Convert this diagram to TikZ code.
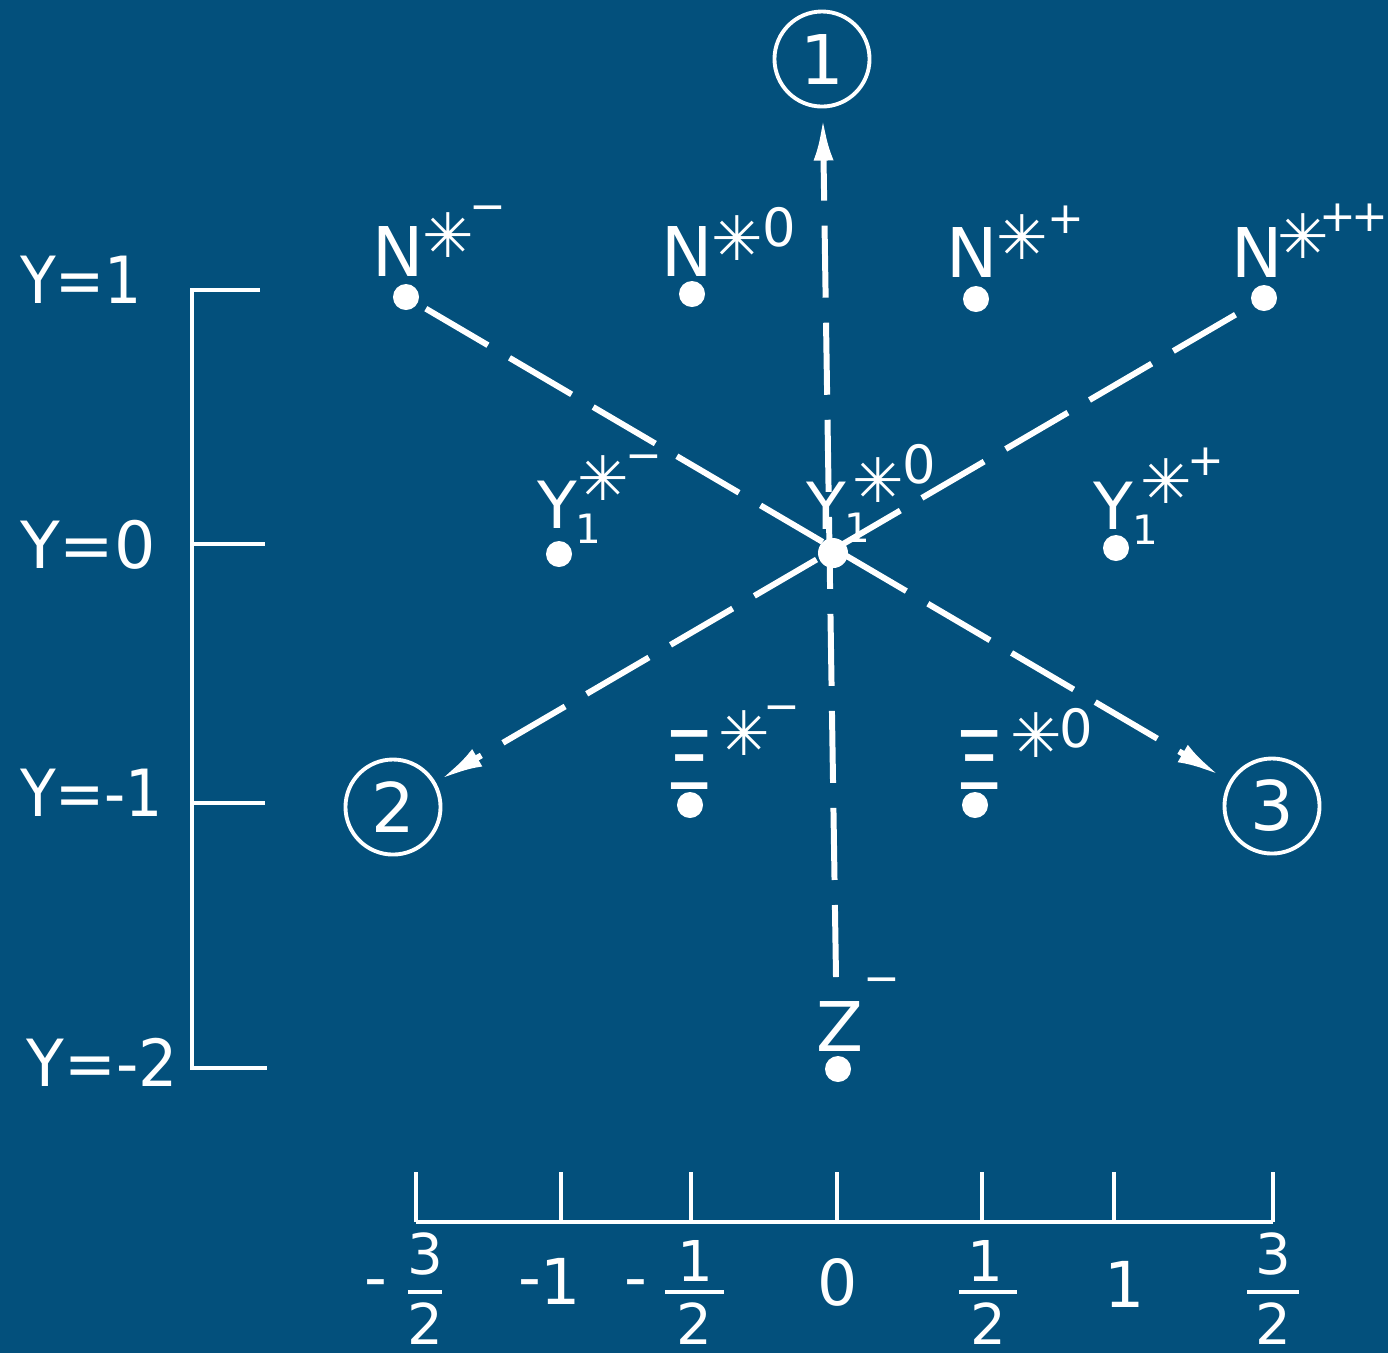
\documentclass[tikz,border=0pt]{standalone}
\usepackage{fontspec}
\setmainfont{DejaVu Sans}
\usepackage{graphicx}
\usetikzlibrary{arrows.meta}
\definecolor{bg}{RGB}{3,80,124}
\begin{document}
\begin{tikzpicture}[x=0.01cm,y=-0.01cm,
  every node/.style={text=white, inner sep=0pt, outer sep=0pt},
  lett/.style={font=\fontsize{19.5}{20}\selectfont},
  yll/.style={font=\fontsize{18.5}{20}\selectfont},
  xil/.style={font=\fontsize{23}{24}\selectfont},
  sub/.style={font=\fontsize{11.5}{14}\selectfont},
  astr/.style={font=\fontsize{17.5}{20}\selectfont},
  chg/.style={font=\fontsize{12.5}{14}\selectfont},
  chz/.style={font=\fontsize{15}{16}\selectfont},
  dotn/.style={circle, fill=white, minimum size=0.26cm},
  numc/.style={circle, draw=white, line width=1.1pt, minimum size=0.95cm, font=\fontsize{19.5}{20}\selectfont},
  dline/.style={white, line width=1.7pt, dash pattern=on 0.72cm off 0.25cm},
  tipa/.style={-{Latex[length=0.42cm,width=0.2cm]}},
  rulel/.style={white, line width=1.4pt},
  ylab/.style={anchor=west, font=\fontsize{18.5}{20}\selectfont},
  axn/.style={font=\fontsize{18}{20}\selectfont},
  frn/.style={font=\fontsize{16}{18}\selectfont},
]
\path[use as bounding box, fill=bg] (0,0) rectangle (1388,1353);

% numbered circles
\node[numc] (c1) at (822,59) {1};
\node[numc] (c2) at (393,807) {2};
\node[numc] (c3) at (1272,806) {3};

% N* multiplet
\node[dotn] (dnm) at (406,297) {};
\node[lett] (nmL) at (398,251) {N};
\node[astr] (nmS) at (448,235) {✳};
\node[chg] (nmC) at (488,214) {−};

\node[dotn] (dn0) at (692,294) {};
\node[lett] (n0L) at (687,251) {N};
\node[astr] (n0S) at (737,238) {✳};
\node[chz] (n0C) at (779,227) {0};

\node[dotn] (dnp) at (976,299) {};
\node[lett] (npL) at (972,252) {N};
\node[astr] (npS) at (1022,237) {✳};
\node[chg] (npC) at (1066,220) {+};

\node[dotn] (dnpp) at (1264,298) {};
\node[lett] (nppL) at (1257,252) {N};
\node[astr] (nppS) at (1303,236) {✳};
\node[chg, anchor=east] (nppC) at (1388,218) {+\kern-1.5pt+};

% Y1* multiplet
\node[dotn] (dym) at (559,554) {};
\node[yll] (ymL) at (557,505) {Y};
\node[sub] (ymI) at (588,529) {1};
\node[astr] (ymS) at (603,478) {✳};
\node[chg] (ymC) at (644,463) {−};

\node[dotn, minimum size=0.3cm] (dy0) at (833,553) {};
\node[yll] (y0L) at (826,506) {Y};
\node[sub] (y0I) at (857,528) {1};
\node[astr] (y0S) at (878,480) {✳};
\node[chz] (y0C) at (919,464) {0};

\node[dotn] (dyp) at (1116,548) {};
\node[yll] (ypL) at (1113,506) {Y};
\node[sub] (ypI) at (1145,530) {1};
\node[astr] (ypS) at (1166,481) {✳};
\node[chg] (ypC) at (1206,462) {+};

% Xi* multiplet
\node[dotn] (dxm) at (690,805) {};
\node[xil] (xmL) at (689,760) {Ξ};
\node[astr] (xmS) at (744,733) {✳};
\node[chg] (xmC) at (782,714) {−};

\node[dotn] (dx0) at (975,805) {};
\node[xil] (x0L) at (979,760) {Ξ};
\node[astr] (x0S) at (1036,735) {✳};
\node[chz] (x0C) at (1076,728) {0};

% Z-
\node[dotn] (dz) at (838,1069) {};
\node[lett] (zL) at (840,1026) {Z};
\node[chg] (zC) at (882,986) {−};

% dashed axes
\coordinate (vbot) at (836,977);
\draw[dline, tipa, shorten >=0.12cm] (vbot) -- (c1);
\draw[dline, tipa, shorten <=0.1cm, shorten >=0.14cm] (dnm) -- (c3);
\draw[dline, tipa, shorten <=0.2cm, shorten >=0.08cm] (dnpp) -- (c2);

% hypercharge scale
\node[ylab] (y1) at (20,280) {\scalebox{0.9}[1]{Y=1}};
\node[ylab] (y0) at (20,545) {Y=0};
\node[ylab] (ym1) at (20,793) {\scalebox{0.9}[1]{Y=-1}};
\node[ylab] (ym2) at (27,1062) {\scalebox{0.95}[1]{Y=-2}};
\draw[rulel] (260,290) -- (192,290) -- (192,1068) -- (267,1068);
\draw[rulel] (192,544) -- (265,544);
\draw[rulel] (192,803) -- (265,803);

% isospin scale
\draw[rulel] (416,1222) -- (1273,1222);
\foreach \xx in {416,561,691,837,982,1114,1273}
  \draw[rulel] (\xx,1222) -- (\xx,1172);

\node[axn] (am32) at (376,1290) {-};
\node[frn] (am32n) at (425,1254) {3};
\node[frn] (am32d) at (425,1324) {2};
\draw[white, line width=1.1pt] (408,1292) -- (442,1292);

\node[axn] (am1s) at (530,1290) {-};
\node[axn] (am1) at (561,1281) {1};

\node[axn] (am12) at (636,1290) {-};
\node[frn] (am12n) at (695,1261) {1};
\node[frn] (am12d) at (694,1324) {2};
\draw[white, line width=1.1pt] (665,1292) -- (724,1292);

\node[axn] (a0) at (838,1282) {0};

\node[frn] (ap12n) at (985,1261) {1};
\node[frn] (ap12d) at (988,1324) {2};
\draw[white, line width=1.1pt] (959,1292) -- (1017,1292);

\node[axn] (ap1) at (1125,1284) {1};

\node[frn] (ap32n) at (1273,1254) {3};
\node[frn] (ap32d) at (1273,1324) {2};
\draw[white, line width=1.1pt] (1247,1292) -- (1299,1292);
\end{tikzpicture}
\end{document}
